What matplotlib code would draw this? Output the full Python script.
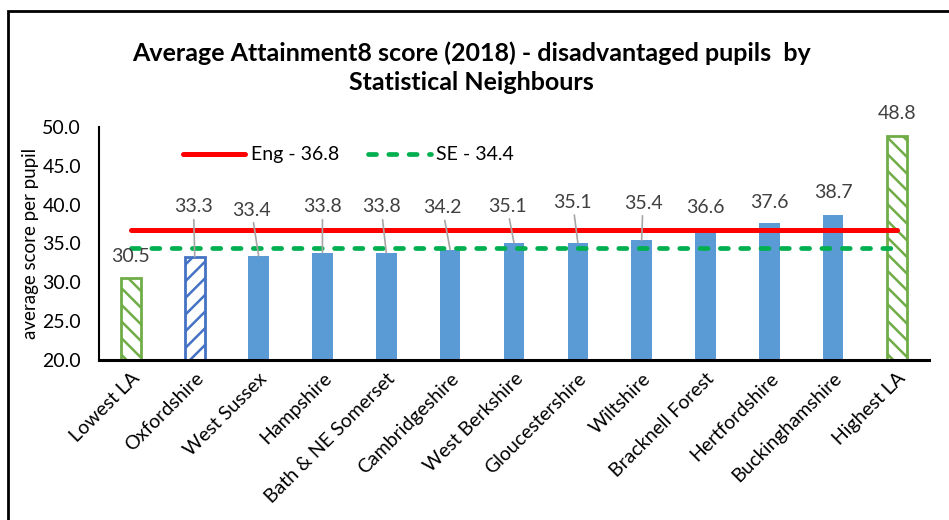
import matplotlib
matplotlib.use('Agg')
import matplotlib.pyplot as plt
from matplotlib.patches import Rectangle

# Chart data
categories = ['Lowest LA', 'Oxfordshire', 'West Sussex', 'Hampshire', 'Bath & NE Somerset',
              'Cambridgeshire', 'West Berkshire', 'Gloucestershire', 'Wiltshire',
              'Bracknell Forest', 'Hertfordshire', 'Buckinghamshire', 'Highest LA']
scores = [30.5, 33.3, 33.4, 33.8, 33.8, 34.2, 35.1, 35.1, 35.4, 36.6, 37.6, 38.7, 48.8]
eng_value = 36.8
se_value = 34.4
eng_label = 'Eng - 36.8'
se_label = 'SE - 34.4'
title = 'Average Attainment8 score (2018) - disadvantaged pupils  by\nStatistical Neighbours'
y_ticks = [20, 25, 30, 35, 40, 45, 50]

# Label layout (x offset in category units, y of label text centre, leader line or not)
label_dx = [0, -0.02, -0.11, 0, -0.08, -0.12, -0.11, -0.08, 0.02, 0, 0, 0, 0]
label_y = [33.3, 39.7, 39.3, 39.7, 39.7, 39.6, 39.8, 40.3, 40.2, 39.6, 40.3, 41.6, 51.8]
has_leader = [False, True, True, True, True, True, True, True, True, False, False, False, False]

plt.rcParams['font.family'] = ['Lato', 'DejaVu Sans']
plt.rcParams['hatch.linewidth'] = 1.8

fig = plt.figure(figsize=(9.49, 5.20), dpi=100)
ax = fig.add_axes([0.1043, 0.3077, 0.8746, 0.4481])

# outer border of the picture
fig.patches.append(Rectangle((8 / 949, -0.1), 1.2, 1.1 - 11 / 520, transform=fig.transFigure,
                             fill=False, edgecolor='black', linewidth=2))

x = list(range(len(categories)))
for i, v in enumerate(scores):
    if i == 0 or i == len(scores) - 1:
        ax.bar(i, v - 20, bottom=20, width=0.32, facecolor='white', edgecolor='#70AD47',
               hatch='\\\\', linewidth=2, zorder=2)
    elif i == 1:
        ax.bar(i, v - 20, bottom=20, width=0.32, facecolor='white', edgecolor='#4472C4',
               hatch='//', linewidth=2, zorder=2)
    else:
        ax.bar(i, v - 20, bottom=20, width=0.32, color='#5B9BD5', zorder=2)

ax.plot(x, [eng_value] * len(x), color='#FF0000', linewidth=3.6, solid_capstyle='round',
        label=eng_label, zorder=3)
ax.plot(x, [se_value] * len(x), color='#00B050', linewidth=3.4, linestyle=(0, (1.7, 2.6)),
        dash_capstyle='round', label=se_label, zorder=3)

# data labels
for i, v in enumerate(scores):
    if has_leader[i]:
        ax.annotate('%.1f' % v, xy=(i, v), xytext=(i + label_dx[i], label_y[i]),
                    ha='center', va='center', fontsize=14, color='#404040',
                    arrowprops=dict(arrowstyle='-', color='#A6A6A6', linewidth=1.2,
                                    shrinkA=1, shrinkB=0), zorder=4)
    else:
        ax.text(i + label_dx[i], label_y[i], '%.1f' % v, ha='center', va='center',
                fontsize=14, color='#404040', zorder=4)

ax.set_xlim(-0.5, len(categories) - 0.5)
ax.set_ylim(20, 50)
ax.set_yticks(y_ticks)
ax.set_yticklabels(['%.1f' % t for t in y_ticks], fontsize=14)
ax.set_xticks(x)
ax.set_xticklabels(categories, rotation=45, ha='right', rotation_mode='anchor', fontsize=14)
ax.tick_params(axis='x', length=0, pad=7)
ax.tick_params(axis='y', length=0, pad=13)
ax.set_ylabel('average score per pupil', fontsize=13.5, labelpad=2)

ax.spines['top'].set_visible(False)
ax.spines['right'].set_visible(False)
ax.spines['left'].set_linewidth(1.5)
ax.spines['bottom'].set_linewidth(2.2)

ax.legend(loc='center left', bbox_to_anchor=(0.08, 0.88), ncol=2, frameon=False,
          fontsize=14, handlelength=3.2, columnspacing=1.5, handletextpad=0.3)

fig.text(0.497, 0.87, title, ha='center', va='center', fontsize=18, fontweight='bold',
         linespacing=1.35)

plt.savefig('out.png', dpi=100)
